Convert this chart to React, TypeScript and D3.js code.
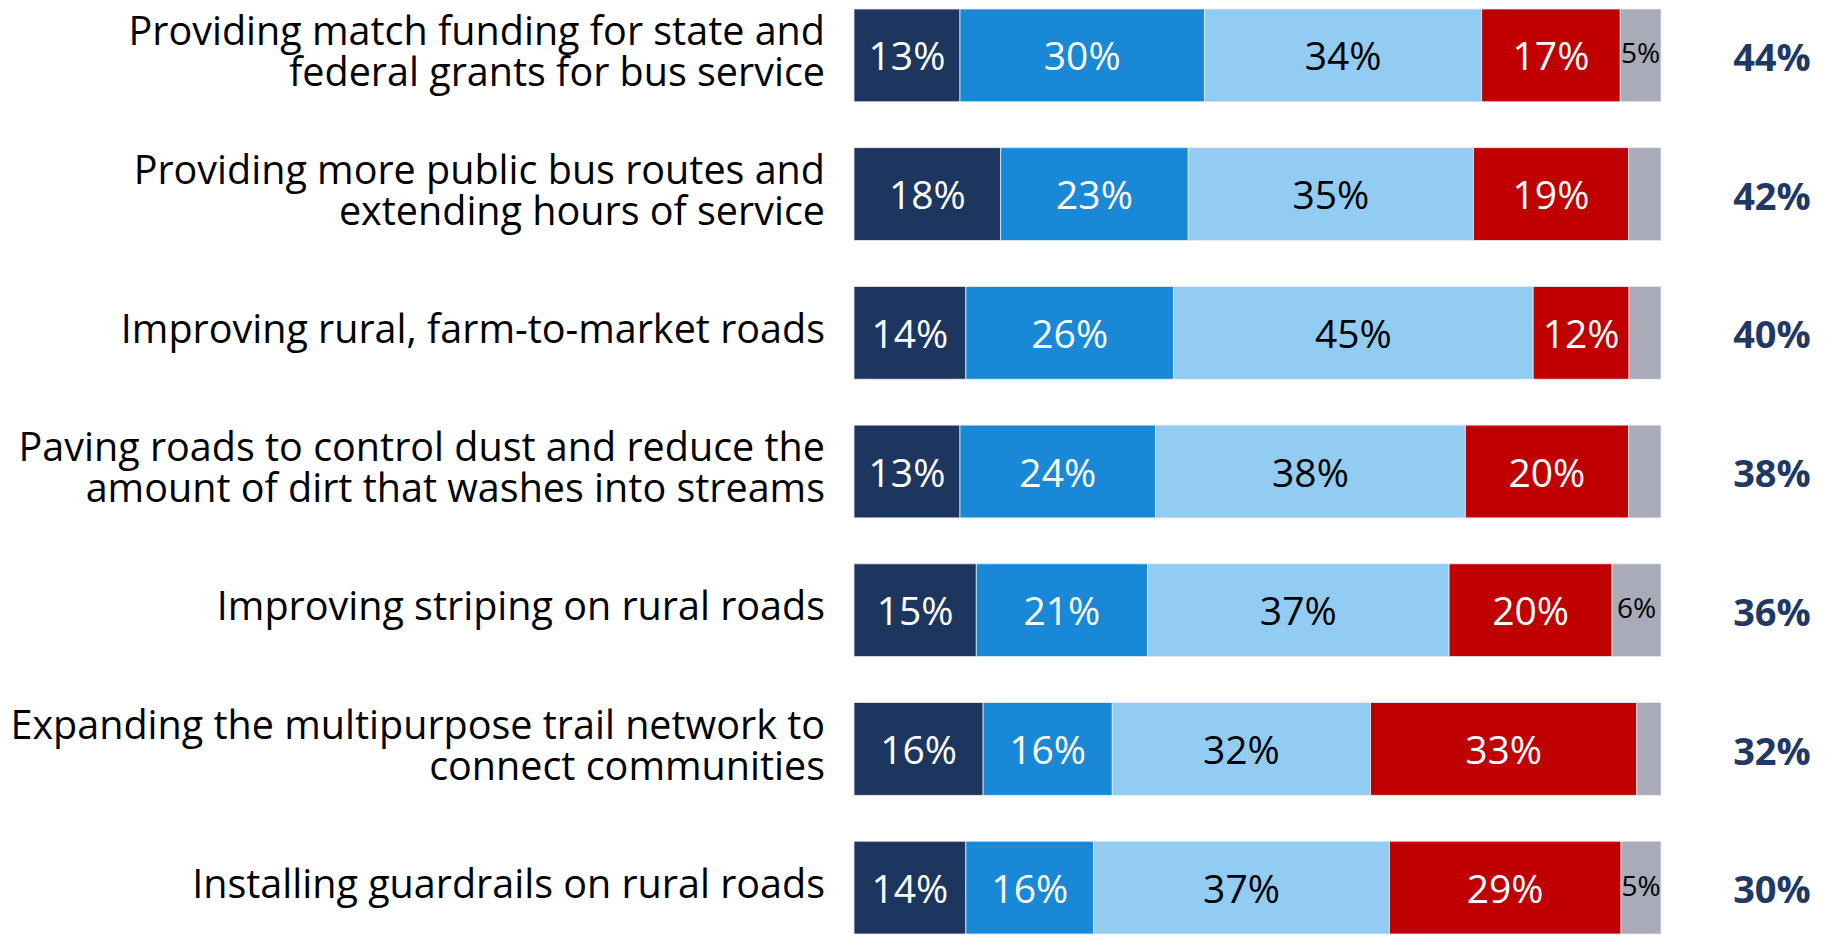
import { useEffect, useRef } from "react"
import * as d3 from "d3"

// survey items (line breaks as in the original slide)
const categories = [
  "Providing match funding for state and\nfederal grants for bus service",
  "Providing more public bus routes and\nextending hours of service",
  "Improving rural, farm-to-market roads",
  "Paving roads to control dust and reduce the\namount of dirt that washes into streams",
  "Improving striping on rural roads",
  "Expanding the multipurpose trail network to\nconnect communities",
  "Installing guardrails on rural roads",
]

const seriesNames = ["Strongly", "Somewhat", "Neutral", "Oppose", "Don't know"]
const strongly = [13, 18, 14, 13, 15, 16, 14]
const somewhat = [30, 23, 26, 24, 21, 16, 16]
const neutral = [34, 35, 45, 38, 37, 32, 37]
const oppose = [17, 19, 12, 20, 20, 33, 29]
const dontKnow = [5, 4, 4, 4, 6, 3, 5]
const rightValues = [44, 42, 40, 38, 36, 32, 30]

const colors = ["#1D365F", "#1888D7", "#93CCF3", "#C00000", "#A9ABB9"]
const textColors = ["#FFFFFF", "#FFFFFF", "#000000", "#FFFFFF", "#000000"]

const FONT = "'Open Sans', 'Noto Sans', sans-serif"

export default function App() {
  const ref = useRef<SVGSVGElement>(null)

  useEffect(() => {
    if (!ref.current) return
    const svg = d3.select(ref.current)
    svg.selectAll("*").remove()

    const barLeft = 854
    const barRight = 1661

    const y = d3
      .scaleBand<string>()
      .domain(categories)
      .range([9, 934])
      .paddingInner(0.331)
      .paddingOuter(0)

    const series = [strongly, somewhat, neutral, oppose, dontKnow]

    const rows = categories.map((cat, i) => {
      const vals = series.map((s) => s[i])
      const total = d3.sum(vals)
      const x = d3.scaleLinear().domain([0, total]).range([barLeft, barRight])
      let acc = 0
      const segs = vals.map((v, k) => {
        const s = { k, v, x0: x(acc), x1: x(acc + v) }
        acc += v
        return s
      })
      return { cat, i, segs }
    })

    const g = svg.append("g")

    rows.forEach((row) => {
      const y0 = y(row.cat) as number
      const bh = y.bandwidth()
      const cy = y0 + bh / 2
      const rg = g.append("g")

      rg.selectAll("rect")
        .data(row.segs)
        .enter()
        .append("rect")
        .attr("x", (d) => d.x0)
        .attr("y", y0)
        .attr("width", (d) => d.x1 - d.x0)
        .attr("height", bh)
        .attr("fill", (d) => colors[d.k])
        .attr("stroke", "#E8ECF2")
        .attr("stroke-width", 0.8)

      rg.selectAll("text.val")
        .data(row.segs.filter((d) => d.k < 4 || d.v >= 5))
        .enter()
        .append("text")
        .attr("class", "val")
        .attr("x", (d) => (d.x0 + d.x1) / 2)
        .attr("y", (d) => cy + (d.k === 4 ? -2 : 1))
        .attr("dy", "0.36em")
        .attr("text-anchor", "middle")
        .attr("font-family", FONT)
        .attr("font-size", (d) => (d.k === 4 ? 28 : 39))
        .attr("fill", (d) => textColors[d.k])
        .text((d) => `${d.v}%`)

      // category label, right aligned
      const lines = row.cat.split("\n")
      const lh = 41
      lines.forEach((line, li) => {
        rg.append("text")
          .attr("x", 825)
          .attr("y", cy - 4 + (li - (lines.length - 1) / 2) * lh)
          .attr("dy", "0.36em")
          .attr("text-anchor", "end")
          .attr("font-family", FONT)
          .attr("font-size", 39.5)
          .attr("fill", "#000")
          .text(line)
      })

      rg.append("text")
        .attr("x", 1772)
        .attr("y", cy + 2)
        .attr("dy", "0.36em")
        .attr("text-anchor", "middle")
        .attr("font-family", FONT)
        .attr("font-weight", "bold")
        .attr("font-size", 38)
        .attr("fill", "#1F3864")
        .text(`${rightValues[row.i]}%`)
    })

    svg.attr("data-series", seriesNames.join(","))
  }, [])

  return (
    <svg
      ref={ref}
      width={1835}
      height={936}
      style={{ position: "absolute", left: 0, top: 0, background: "#fff" }}
    />
  )
}
